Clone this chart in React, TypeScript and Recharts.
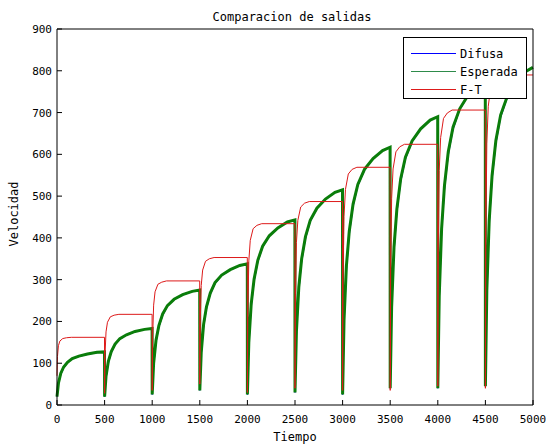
import { Line, LineChart, XAxis, YAxis } from 'recharts'

const FONT = '"DejaVu Sans Mono", "Liberation Mono", monospace'

// each step lasts 500 time units; samples are taken at these offsets inside a step
const stepLength = 500
const offsetsSalida = [0, 15, 40, 70, 110, 160, 230, 320, 420, 499]
const offsetsFT = [0, 5, 15, 30, 60, 100, 150, 499]

// Esperada (green), one row per step
const esperada = [
  [20, 52, 76, 91, 102, 111, 117, 122, 126, 127],
  [20, 69, 105, 128, 146, 159, 168, 176, 181, 183],
  [25, 100, 155, 190, 218, 238, 253, 264, 272, 275],
  [35, 126, 193, 235, 268, 293, 311, 324, 334, 338],
  [25, 150, 242, 301, 347, 380, 405, 424, 438, 443],
  [30, 176, 282, 350, 403, 442, 471, 493, 509, 515],
  [25, 203, 333, 416, 481, 528, 564, 590, 609, 617],
  [40, 235, 378, 469, 541, 593, 632, 661, 682, 690],
  [40, 261, 422, 525, 606, 665, 709, 742, 765, 775],
  [45, 274, 442, 549, 633, 694, 739, 774, 798, 808],
]

// Difusa (blue), almost hidden under the green one
const difusa = [
  [20, 48, 72, 88, 100, 110, 116, 121, 125, 127],
  [20, 63, 100, 124, 143, 157, 167, 175, 181, 183],
  [25, 92, 148, 185, 214, 236, 252, 263, 271, 275],
  [35, 116, 185, 229, 264, 290, 309, 323, 333, 338],
  [25, 138, 232, 294, 342, 377, 403, 423, 437, 443],
  [30, 162, 271, 342, 397, 438, 469, 492, 508, 515],
  [25, 187, 320, 406, 474, 524, 561, 589, 608, 617],
  [40, 217, 364, 458, 533, 588, 629, 660, 681, 690],
  [40, 242, 407, 513, 597, 659, 706, 740, 764, 775],
  [45, 254, 426, 537, 624, 688, 735, 772, 797, 808],
]

// F-T (red)
const ft = [
  [70, 116, 142, 153, 159, 161, 162, 162],
  [28, 123, 175, 198, 211, 215, 217, 217],
  [35, 166, 239, 271, 289, 294, 297, 297],
  [50, 202, 286, 323, 344, 350, 353, 353],
  [30, 232, 345, 394, 422, 430, 434, 434],
  [40, 264, 389, 442, 474, 483, 487, 487],
  [35, 302, 452, 516, 553, 564, 569, 569],
  [35, 330, 494, 565, 606, 618, 624, 624],
  [45, 376, 561, 640, 686, 699, 706, 706],
  [40, 415, 625, 715, 768, 783, 790, 790],
]

const xTicks = [0, 500, 1000, 1500, 2000, 2500, 3000, 3500, 4000, 4500, 5000]
const yTicks = [0, 100, 200, 300, 400, 500, 600, 700, 800, 900]

const toPoints = (rows: number[][], offsets: number[]) =>
  rows.flatMap((row, i) => row.map((v, j) => ({ t: i * stepLength + offsets[j], v })))

const difusaData = toPoints(difusa, offsetsSalida)
const esperadaData = toPoints(esperada, offsetsSalida)
const ftData = toPoints(ft, offsetsFT)

const BLUE = '#0000ff'
const GREEN = '#0a7d0a'
const RED = '#dd1a1a'

const legendItems = [
  { name: 'Difusa', color: BLUE },
  { name: 'Esperada', color: '#2e8b4a' },
  { name: 'F-T', color: RED },
]

const BottomTick = ({ x, y, payload }: any) => (
  <g>
    <line x1={x} y1={y} x2={x} y2={y - 5} stroke='#000' />
    <text x={x} y={y + 18} textAnchor='middle' fontSize={11} fontFamily={FONT} fill='#000'>
      {payload.value}
    </text>
  </g>
)

const LeftTick = ({ x, y, payload }: any) => (
  <g>
    <line x1={x} y1={y} x2={x + 5} y2={y} stroke='#000' />
    <text x={x - 5} y={y + 4} textAnchor='end' fontSize={11} fontFamily={FONT} fill='#000'>
      {payload.value}
    </text>
  </g>
)

const TopTick = ({ x, y }: any) => <line x1={x} y1={y} x2={x} y2={y + 5} stroke='#000' />
const RightTick = ({ x, y }: any) => <line x1={x} y1={y} x2={x - 5} y2={y} stroke='#000' />

const LegendBox = () => (
  <svg
    width={124}
    height={62}
    style={{ position: 'absolute', left: 403, top: 37, display: 'block' }}
  >
    <rect x={0.5} y={0.5} width={123} height={61} fill='#fff' stroke='#000' />
    {legendItems.map((item, i) => {
      const cy = 16.5 + i * 18
      return (
        <g key={item.name}>
          <line x1={8} y1={cy} x2={53} y2={cy} stroke={item.color} />
          <text x={57} y={cy + 4} fontSize={12} fontFamily={FONT} fill='#000'>
            {item.name}
          </text>
        </g>
      )
    })}
  </svg>
)

const textStyle = {
  position: 'absolute' as const,
  fontFamily: FONT,
  fontSize: 12,
  lineHeight: '14px',
  color: '#000',
  whiteSpace: 'nowrap' as const,
}

export default function App() {
  return (
    <div style={{ position: 'relative', width: 547, height: 445, background: '#fff' }}>
      <style>{'body{margin:0;background:#fff}'}</style>
      <LineChart width={547} height={445} margin={{ top: 0, right: 0, bottom: 0, left: 0 }}>
        <XAxis
          dataKey='t'
          type='number'
          domain={[0, 5000]}
          ticks={xTicks}
          interval={0}
          height={40}
          tickSize={0}
          tickMargin={0}
          tickLine={false}
          axisLine={{ stroke: '#000' }}
          tick={<BottomTick />}
        />
        <XAxis
          xAxisId='top'
          orientation='top'
          type='number'
          domain={[0, 5000]}
          ticks={xTicks}
          interval={0}
          height={29}
          tickSize={0}
          tickMargin={0}
          tickLine={false}
          axisLine={{ stroke: '#000' }}
          tick={<TopTick />}
        />
        <YAxis
          type='number'
          domain={[0, 900]}
          ticks={yTicks}
          interval={0}
          width={57}
          tickSize={0}
          tickMargin={0}
          tickLine={false}
          axisLine={{ stroke: '#000' }}
          tick={<LeftTick />}
        />
        <YAxis
          yAxisId='right'
          orientation='right'
          type='number'
          domain={[0, 900]}
          ticks={yTicks}
          interval={0}
          width={14}
          tickSize={0}
          tickMargin={0}
          tickLine={false}
          axisLine={{ stroke: '#000' }}
          tick={<RightTick />}
        />
        <Line
          data={difusaData}
          dataKey='v'
          name='Difusa'
          stroke={BLUE}
          strokeWidth={1}
          dot={false}
          isAnimationActive={false}
        />
        <Line
          data={esperadaData}
          dataKey='v'
          name='Esperada'
          stroke={GREEN}
          strokeWidth={3}
          dot={false}
          isAnimationActive={false}
        />
        <Line
          data={ftData}
          dataKey='v'
          name='F-T'
          stroke={RED}
          strokeWidth={1}
          dot={false}
          isAnimationActive={false}
        />
      </LineChart>
      <LegendBox />
      <div style={{ ...textStyle, left: 0, width: 584, top: 10, textAlign: 'center' }}>
        Comparacion de salidas
      </div>
      <div style={{ ...textStyle, left: 0, width: 590, top: 430, textAlign: 'center' }}>Tiempo</div>
      <div
        style={{
          ...textStyle,
          left: 14,
          top: 214,
          transform: 'translate(-50%, -50%) rotate(-90deg)',
        }}
      >
        Velocidad
      </div>
    </div>
  )
}
